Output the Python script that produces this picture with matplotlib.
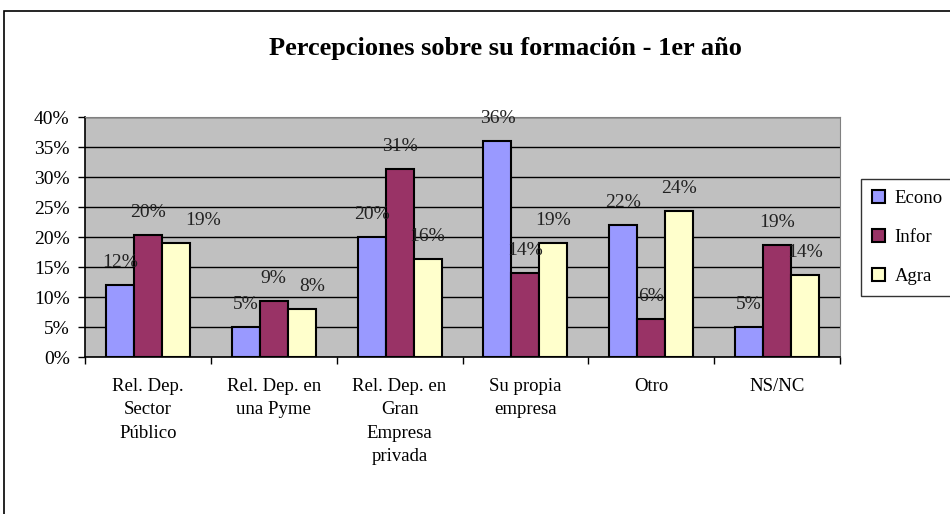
import numpy as np
import matplotlib
matplotlib.use('Agg')
import matplotlib.pyplot as plt
from matplotlib.patches import Rectangle

categorias = ['Rel. Dep.\nSector\nPúblico', 'Rel. Dep. en\nuna Pyme',
              'Rel. Dep. en\nGran\nEmpresa\nprivada', 'Su propia\nempresa',
              'Otro', 'NS/NC']
series = ['Econo', 'Infor', 'Agra']
econo = [12, 5, 20, 36, 22, 5]
infor = [20.3, 9.3, 31.3, 14, 6.3, 18.7]
agra = [19, 8, 16.3, 19, 24.3, 13.7]
colores = ['#9999FF', '#993366', '#FFFFCC']

plt.rcParams['font.family'] = ['Liberation Serif', 'DejaVu Serif']

fig = plt.figure(figsize=(9.5, 5.14), dpi=100)
# borde del area del grafico
fig.patches.append(Rectangle((4/950, -0.1), 1.2, 1 - 11/514 + 0.1,
                             transform=fig.transFigure, fill=False,
                             edgecolor='black', linewidth=1.2))

ax = fig.add_axes([85/950, 1 - 357/514, 755/950, 240/514])
ax.set_facecolor('#C0C0C0')

x = np.arange(len(categorias))
w = 1 / 4.5
datos = [econo, infor, agra]
# pequeños desplazamientos de etiquetas como en el original (px)
desp = {(2, 0): 27, (2, 1): 10}
for i, (vals, nom) in enumerate(zip(datos, series)):
    pos = x + (i - 1) * w
    ax.bar(pos, vals, w, color=colores[i], edgecolor='black', linewidth=1.5,
           label=nom, zorder=3)
    for j, (p, v) in enumerate(zip(pos, vals)):
        ax.annotate('%d%%' % round(v), (p, v), xytext=(desp.get((i, j), 0) * 0.72, 16),
                    textcoords='offset points', ha='center', va='center',
                    fontsize=14, color='#222222', zorder=4)

ax.set_xlim(-0.5, len(categorias) - 0.5)
ax.set_ylim(0, 40)
ax.set_yticks(np.arange(0, 41, 5))
ax.set_yticklabels(['%d%%' % t for t in range(0, 41, 5)], fontsize=14)
ax.yaxis.grid(True, color='black', linewidth=1, zorder=1)
ax.set_axisbelow(True)

ax.set_xticks(np.arange(-0.5, len(categorias), 1))
ax.set_xticklabels([])
ax.set_xticks(x, minor=True)
ax.set_xticklabels(categorias, minor=True, fontsize=13.5, linespacing=1.5)
ax.tick_params(axis='x', which='minor', length=0, pad=15)
ax.tick_params(axis='both', which='major', direction='out', length=5, width=1)
ax.tick_params(axis='y', which='major', pad=6)

for s in ['top', 'right']:
    ax.spines[s].set_color('#808080')
for s in ['left', 'bottom']:
    ax.spines[s].set_linewidth(1.2)

fig.text(505/950, 1 - 48/514, 'Percepciones sobre su formación - 1er año',
         ha='center', va='center', fontsize=19, fontweight='bold')

ax.legend(loc='upper left', bbox_to_anchor=(861/950, 1 - 179/514),
          bbox_transform=fig.transFigure, borderaxespad=0, fontsize=13.5,
          frameon=True, fancybox=False, edgecolor='black', handlelength=0.7,
          handleheight=0.7, handletextpad=0.5, labelspacing=1.15, borderpad=0.6)

fig.savefig('out.png', dpi=100)
